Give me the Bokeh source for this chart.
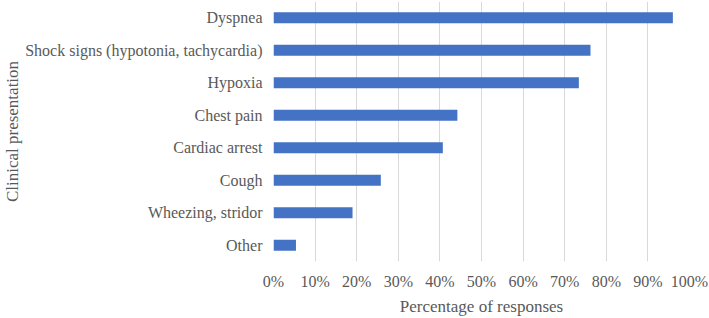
from bokeh.plotting import figure
from bokeh.models import FixedTicker, PrintfTickFormatter, ColumnDataSource
from bokeh.embed import file_html
from bokeh.resources import INLINE

categories = ["Dyspnea", "Shock signs (hypotonia, tachycardia)", "Hypoxia", "Chest pain",
              "Cardiac arrest", "Cough", "Wheezing, stridor", "Other"]
values = [96, 76.2, 73.4, 44.2, 40.7, 25.8, 19.0, 5.4]
x_ticks = [0, 10, 20, 30, 40, 50, 60, 70, 80, 90, 100]

FONT = "Liberation Serif"
TEXT = "#595959"

src = ColumnDataSource(dict(cat=categories, val=values))

p = figure(width=709, height=318, y_range=list(reversed(categories)), x_range=(0, 100),
           output_backend="svg", toolbar_location=None,
           min_border_left=273, min_border_right=20, min_border_top=1, min_border_bottom=55)

p.hbar(y="cat", right="val", left=0, height=0.34, source=src,
       fill_color="#4472C4", line_color=None)

p.outline_line_color = None

p.xaxis.ticker = FixedTicker(ticks=x_ticks)
p.xaxis.formatter = PrintfTickFormatter(format="%d%%")
p.xaxis.axis_line_color = None
p.xaxis.major_tick_line_color = None
p.xaxis.minor_tick_line_color = None
p.xaxis.major_tick_out = 0
p.xaxis.major_label_standoff = 11
p.xaxis.major_label_text_font = FONT
p.xaxis.major_label_text_font_size = "16px"
p.xaxis.major_label_text_color = TEXT
p.xaxis.axis_label = "Percentage of responses"
p.xaxis.axis_label_text_font = FONT
p.xaxis.axis_label_text_font_size = "17px"
p.xaxis.axis_label_text_font_style = "normal"
p.xaxis.axis_label_text_color = TEXT
p.xaxis.axis_label_standoff = 4

p.yaxis.axis_line_color = None
p.yaxis.major_tick_line_color = None
p.yaxis.minor_tick_line_color = None
p.yaxis.major_tick_out = 0
p.yaxis.major_label_standoff = 11
p.yaxis.major_label_text_font = FONT
p.yaxis.major_label_text_font_size = "16px"
p.yaxis.major_label_text_color = TEXT
p.yaxis.axis_label = "Clinical presentation"
p.yaxis.axis_label_text_font = FONT
p.yaxis.axis_label_text_font_size = "17px"
p.yaxis.axis_label_text_font_style = "normal"
p.yaxis.axis_label_text_color = TEXT
p.yaxis.axis_label_standoff = 0

p.xgrid.ticker = FixedTicker(ticks=x_ticks)
p.xgrid.grid_line_color = "#D9D9D9"
p.xgrid.grid_line_width = 1
p.ygrid.grid_line_color = None

open("out.html", "w").write(file_html(p, INLINE))
